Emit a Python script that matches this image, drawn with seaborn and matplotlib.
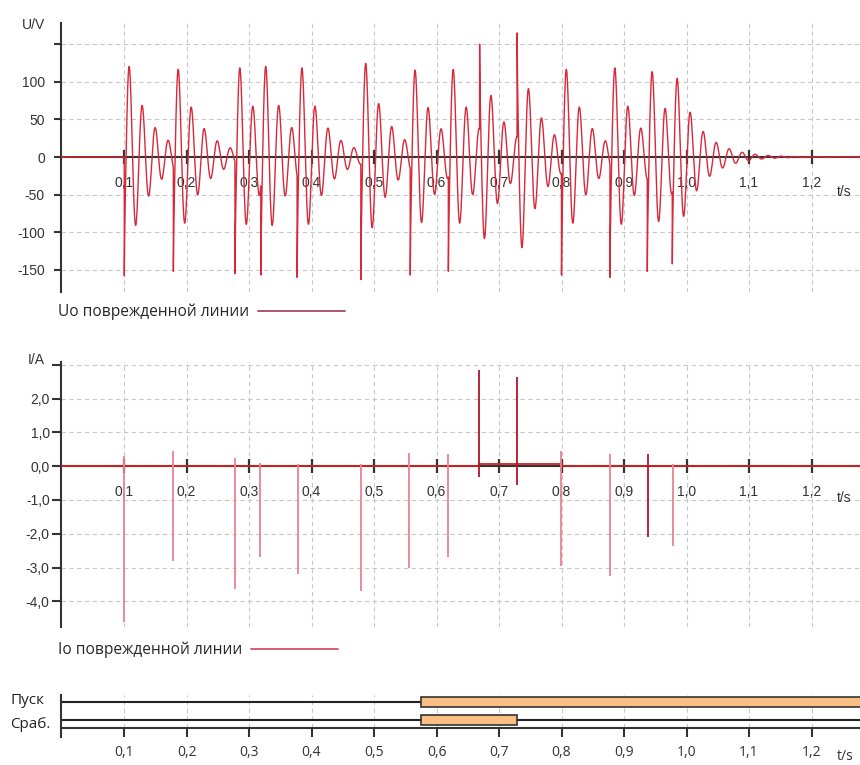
import numpy as np
import matplotlib
matplotlib.use("Agg")
import matplotlib.pyplot as plt
import seaborn as sns

sns.set_style("white")
plt.rcParams['font.family'] = ['Liberation Sans', 'DejaVu Sans']

# --- voltage Uo: re-strike events ---
u_event_t = [0.1005, 0.179, 0.2776, 0.319, 0.377, 0.479, 0.558, 0.619,
             0.669, 0.729, 0.800, 0.8776, 0.9373, 0.9773]
u_spike = [-158, -152, -155, -157, -160, -163, -157, -152,
           150, 165, -157, -160, -152, -142]
u_swing = [120, 116, 118, 120, 118, 124, 115, 116,
           -108, -120, 116, 118, 113, 104]
u_period = 0.0208   # ringing period, s
u_ratio = 0.57      # amplitude ratio per period
u_delay = 0.008     # first swing after the strike, s

# --- current Io ---
i_spike_t = [0.1005, 0.178, 0.2776, 0.318, 0.379, 0.479, 0.556, 0.618,
             0.668, 0.729, 0.799, 0.878, 0.938, 0.978]
i_spike_top = [0.3, 0.45, 0.25, 0.1, 0.05, 0.05, 0.4, 0.35,
               2.85, 2.63, 0.45, 0.35, 0.35, 0.05]
i_spike_bot = [-4.6, -2.8, -3.65, -2.7, -3.2, -3.7, -3.0, -2.7,
               -0.33, -0.56, -2.95, -3.25, -2.1, -2.35]
i_base_t = [0.0, 0.668, 0.800, 1.28]
i_base_level = [0.0, 0.05, 0.0, 0.0]

# --- binary signals ---
sig_names = ["Пуск", "Сраб."]
sig_on = [0.575, 0.575]
sig_off = [1.28, 0.729]

xt = [0.1, 0.2, 0.3, 0.4, 0.5, 0.6, 0.7, 0.8, 0.9, 1.0, 1.1, 1.2]
xt_labels = ["0,1", "0,2", "0,3", "0,4", "0,5", "0,6", "0,7", "0,8",
             "0,9", "1,0", "1,1", "1,2"]
u_ticks = [150, 100, 50, 0, -50, -100, -150]
u_tick_labels = ["", "100", "50", "0", "-50", "-100", "-150"]
i_ticks = [3, 2, 1, 0, -1, -2, -3, -4]
i_tick_labels = ["", "2,0", "1,0", "0,0", "-1,0", "-2,0", "-3,0", "-4,0"]

# build the voltage trace from the events
t = np.arange(0, 1.28, 0.0001)
u = np.zeros_like(t)
tau = u_period / np.log(1 / u_ratio)
for k, t0 in enumerate(u_event_t):
    t1 = u_event_t[k + 1] if k + 1 < len(u_event_t) else 2.0
    m = (t >= t0) & (t < t1)
    dt = t[m] - t0
    osc = u_swing[k] * np.exp(-(dt - u_delay) / tau) * np.cos(2 * np.pi * (dt - u_delay) / u_period)
    osc0 = u_swing[k] * np.exp(u_delay / tau) * np.cos(-2 * np.pi * u_delay / u_period)
    u[m] = osc + (u_spike[k] - osc0) * np.exp(-dt / 0.0005)

W, H = 860, 765
fig = plt.figure(figsize=(8.6, 7.65), dpi=100)


def px_axes(x0, y0, x1, y1):
    return fig.add_axes([x0 / W, 1 - y1 / H, (x1 - x0) / W, (y1 - y0) / H])


ax_u = px_axes(61.5, 23, 860, 292)
ax_i = px_axes(61.5, 362, 860, 627)
ax_s = px_axes(61.5, 695, 860, 728)

XMAX = (860 - 61.5) / 625
dark = '#333333'
grid_kw = dict(color='#c8c8c8', lw=0.8, ls=(0, (4, 3)))

for ax in (ax_u, ax_i, ax_s):
    ax.set_xlim(0, XMAX)
    ax.set_xticks(xt, xt_labels)
    ax.spines[['top', 'right']].set_visible(False)
    for s in ('left', 'bottom'):
        ax.spines[s].set_color(dark)
        ax.spines[s].set_linewidth(1.5)
    ax.tick_params(bottom=True, left=True)
    ax.set_xlabel("")
    ax.set_ylabel("")

# ---- voltage panel ----
sns.lineplot(x=t, y=u, ax=ax_u, color='#d8283a', lw=1.0, estimator=None,
             label='Uo поврежденной линии', zorder=3)
ax_u.set_ylim(-179.5, 178.2)
ax_u.set_yticks(u_ticks, u_tick_labels)
ax_u.spines['bottom'].set_position(('data', 0))
ax_u.grid(True, **grid_kw)
ax_u.tick_params(axis='x', direction='inout', length=10, width=1.6, color=dark,
                 pad=8.5, labelsize=10, labelcolor=dark)
ax_u.tick_params(axis='y', direction='out', length=5, width=1.5, color=dark,
                 pad=7, labelsize=10, labelcolor=dark)
ax_u.text(22 / W, 1 - 25 / H, "U/V", transform=fig.transFigure, fontsize=10,
          color=dark, va='center', ha='left')
ax_u.text(1.2408, -46.5, "t/s", fontsize=10, color=dark, va='center', ha='left')
leg = ax_u.legend(loc='center left', bbox_to_anchor=(58 / W, 1 - 312 / H),
                  bbox_transform=fig.transFigure, frameon=False, markerfirst=False,
                  handlelength=5.6, handletextpad=0.55, borderpad=0, borderaxespad=0,
                  prop={'family': 'Open Sans', 'size': 11.2})
leg.get_lines()[0].set_color('#a8485a')
leg.get_lines()[0].set_linewidth(1.3)

# ---- current panel ----
sns.lineplot(x=i_base_t, y=i_base_level, ax=ax_i, color='#d42020', lw=1.3,
             drawstyle='steps-post', estimator=None,
             label='Io поврежденной линии', zorder=3)
spike_colors = ['#b3122a' if v > 2 or abs(b + 2.1) < 0.01 else '#ec8090'
                for v, b in zip(i_spike_top, i_spike_bot)]
ax_i.vlines(i_spike_t, i_spike_bot, i_spike_top, colors=spike_colors, lw=1.3, zorder=3)
ax_i.set_ylim(-4.76, 3.08)
ax_i.set_yticks(i_ticks, i_tick_labels)
ax_i.spines['bottom'].set_position(('data', 0))
ax_i.grid(True, **grid_kw)
ax_i.tick_params(axis='x', direction='inout', length=10, width=1.6, color=dark,
                 pad=8.5, labelsize=10, labelcolor=dark)
ax_i.tick_params(axis='y', direction='out', length=6.5, width=1.5, color=dark,
                 pad=2, labelsize=10, labelcolor=dark)
ax_i.text(28 / W, 1 - 360 / H, "I/A", transform=fig.transFigure, fontsize=10,
          color=dark, va='center', ha='left')
ax_i.text(1.2408, -0.95, "t/s", fontsize=10, color=dark, va='center', ha='left')
leg = ax_i.legend(loc='center left', bbox_to_anchor=(58 / W, 1 - 650 / H),
                  bbox_transform=fig.transFigure, frameon=False, markerfirst=False,
                  handlelength=5.6, handletextpad=0.55, borderpad=0, borderaxespad=0,
                  prop={'family': 'Open Sans', 'size': 11.2})
leg.get_lines()[0].set_color('#d4506a')
leg.get_lines()[0].set_linewidth(1.3)

# ---- binary signals ----
rows = [1, 0]
ax_s.set_ylim(-0.444, 1.389)
ax_s.hlines(rows, 0, XMAX, color='#222222', lw=1.5, zorder=2)
ax_s.barh(rows, np.array(sig_off) - np.array(sig_on), left=sig_on, height=0.61,
          color='#f9bf84', edgecolor=dark, lw=1.2, zorder=3)
ax_s.grid(True, axis='x', **grid_kw)
ax_s.set_yticks([])
ax_s.spines['left'].set_bounds(-0.95, 1.389)
ax_s.tick_params(axis='x', direction='out', length=6.5, width=1.5, color=dark,
                 pad=5.5, labelsize=10, labelcolor=dark)
for lab in ax_s.get_xticklabels():
    lab.set_family('Open Sans')
ax_s.text(1.2408, -2.0, "t/s", fontsize=10, color=dark, va='center', ha='left',
          family='Open Sans')
fig.text(10 / W, 1 - 701 / H, sig_names[0], fontsize=11, color='#222222',
         va='center', ha='left', family='Open Sans')
fig.text(10 / W, 1 - 724 / H, sig_names[1], fontsize=11, color='#222222',
         va='center', ha='left', family='Open Sans')

fig.savefig('out.png', dpi=100)
